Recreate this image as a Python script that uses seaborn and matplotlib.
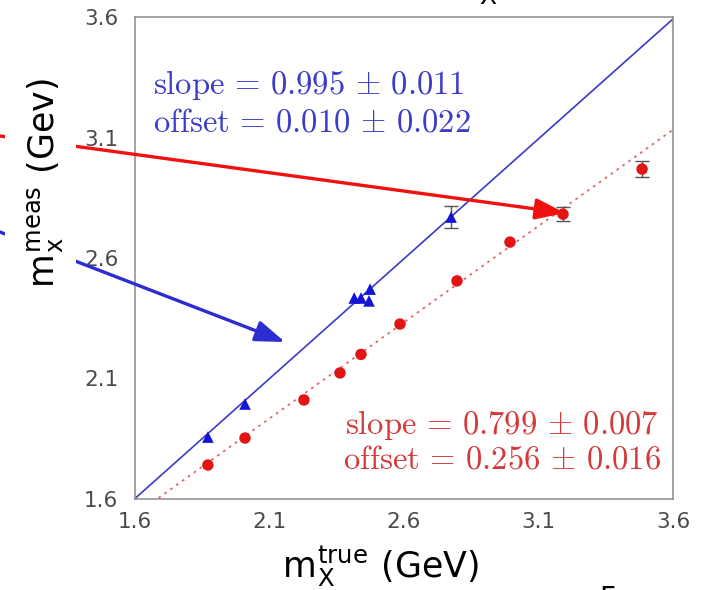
import numpy as np
import pandas as pd
import seaborn as sns
import matplotlib
matplotlib.use("Agg")
import matplotlib.pyplot as plt
from matplotlib.patches import Rectangle
from matplotlib.ticker import FixedLocator, MultipleLocator

# --- measured vs. true mass ---------------------------------------------
# raw measurement (red circles)
x_true_raw = [1.871, 2.009, 2.228, 2.362, 2.440, 2.585, 2.797, 2.994, 3.191, 3.485]
y_meas_raw = [1.741, 1.853, 2.011, 2.123, 2.200, 2.326, 2.505, 2.666, 2.782, 2.969]
yerr_raw = [0, 0, 0, 0, 0, 0, 0, 0, 0.029, 0.033]

# corrected measurement (blue triangles)
x_true_cor = [1.871, 2.009, 2.415, 2.440, 2.474, 2.470, 2.775]
y_meas_cor = [1.857, 1.994, 2.434, 2.434, 2.471, 2.422, 2.770]
yerr_cor = [0, 0, 0, 0, 0, 0, 0.045]

# straight-line fits
slope_cor, slope_cor_err = 0.995, 0.011
offset_cor, offset_cor_err = 0.010, 0.022
slope_raw, slope_raw_err = 0.799, 0.007
offset_raw, offset_raw_err = 0.256, 0.016

tick_values = [1.6, 2.1, 2.6, 3.1, 3.6]
tick_labels = ["1.6", "2.1", "2.6", "3.1", "3.6"]

sns.set_theme(style="white")
plt.rcParams["font.family"] = ["DejaVu Sans"]
plt.rcParams["mathtext.fontset"] = "cm"

W, H = 709, 590
fig = plt.figure(figsize=(W / 100, H / 100), dpi=100)
fig.patch.set_facecolor("white")
ax = fig.add_axes([135 / W, 1 - 499 / H, 538 / W, 482 / H])
ax.set_facecolor("white")

# fit lines
fit_x = np.array([1.6, 3.6])
sns.lineplot(x=fit_x, y=slope_cor * fit_x + offset_cor, ax=ax,
             color="#3a3ac4", lw=1.2, zorder=2)
sns.lineplot(x=fit_x, y=slope_raw * fit_x + offset_raw, ax=ax,
             color="#e06a6a", lw=1.3, linestyle=(0, (1.5, 2.5)), zorder=2)


def draw_errors(xs, ys, errs):
    """Error bars only where an uncertainty is given."""
    sel = [i for i, e in enumerate(errs) if e > 0]
    ax.errorbar([xs[i] for i in sel], [ys[i] for i in sel],
                yerr=[errs[i] for i in sel], fmt="none", ecolor="#555555",
                elinewidth=1.0, capsize=5, capthick=1.0, zorder=3)


draw_errors(x_true_raw, y_meas_raw, yerr_raw)
draw_errors(x_true_cor, y_meas_cor, yerr_cor)

# points
raw_df = pd.DataFrame({"true": x_true_raw, "meas": y_meas_raw})
cor_df = pd.DataFrame({"true": x_true_cor, "meas": y_meas_cor})
sns.scatterplot(data=raw_df, x="true", y="meas", ax=ax, marker="o", s=68,
                color="#e21414", edgecolor="none", zorder=4)
sns.scatterplot(data=cor_df, x="true", y="meas", ax=ax, marker="^", s=70,
                color="#1414d8", edgecolor="none", zorder=4)

ax.set_xlim(1.6, 3.6)
ax.set_ylim(1.6, 3.6)
ax.set_xlabel("")
ax.set_ylabel("")

for axis in (ax.xaxis, ax.yaxis):
    axis.set_major_locator(FixedLocator(tick_values))
    axis.set_minor_locator(MultipleLocator(0.1))
ax.set_xticklabels(tick_labels)
ax.set_yticklabels(tick_labels)
ax.tick_params(which="both", direction="in", top=False, right=False,
               color="#777777", width=1.0, labelsize=15.5, labelcolor="#4a4a4a")
ax.tick_params(which="major", length=7)
ax.tick_params(which="minor", length=4)
ax.tick_params(axis="x", pad=9)
ax.tick_params(axis="y", pad=12)
for sp in ax.spines.values():
    sp.set_color("#8a8a8a")
    sp.set_linewidth(1.1)

# fit results
fit_fmt_slope = r"$\mathrm{slope}\,=\,%.3f\,\pm\,%.3f$"
fit_fmt_offset = r"$\mathrm{offset}\,=\,%.3f\,\pm\,%.3f$"
ax.text(1.667, 3.318, fit_fmt_slope % (slope_cor, slope_cor_err),
        color="#3c3cc8", fontsize=23.5, va="center", ha="left", zorder=5)
ax.text(1.667, 3.166, fit_fmt_offset % (offset_cor, offset_cor_err),
        color="#3c3cc8", fontsize=23.5, va="center", ha="left", zorder=5)
ax.text(2.380, 1.909, fit_fmt_slope % (slope_raw, slope_raw_err),
        color="#d43a3a", fontsize=23.5, va="center", ha="left", zorder=5)
ax.text(2.372, 1.764, fit_fmt_offset % (offset_raw, offset_raw_err),
        color="#d43a3a", fontsize=23.5, va="center", ha="left", zorder=5)

# pointer arrows
ax.annotate("", xy=(565, H - 213), xytext=(0, H - 136),
            xycoords="figure pixels", textcoords="figure pixels",
            arrowprops=dict(arrowstyle="-|>,head_length=0.9,head_width=0.32",
                            mutation_scale=20, color="#f01010", lw=2.4,
                            shrinkA=0, shrinkB=0),
            annotation_clip=False, zorder=20)
ax.annotate("", xy=(285, H - 342), xytext=(0, H - 232),
            xycoords="figure pixels", textcoords="figure pixels",
            arrowprops=dict(arrowstyle="-|>,head_length=0.9,head_width=0.32",
                            mutation_scale=20, color="#2c2cd0", lw=2.4,
                            shrinkA=0, shrinkB=0),
            annotation_clip=False, zorder=20)

# axis titles on a white text box
fig.add_artist(Rectangle((5 / W, 1 - 330 / H), 71 / W, 300 / H,
                         transform=fig.transFigure, facecolor="white",
                         edgecolor="none", zorder=5))
fig.text(46 / W, 1 - 183 / H, r"m$_\mathregular{x}^\mathregular{meas}$ (Gev)",
         rotation=90, ha="center", va="center", fontsize=25, color="black",
         zorder=6)
fig.text(380 / W, 1 - 567 / H, r"m$_\mathregular{X}^\mathregular{true}$ (GeV)",
         ha="center", va="center", fontsize=25, color="black", zorder=6)

# edges of neighbouring slide text
fig.text(488 / W, 1 - 4 / H, "X", ha="center", va="baseline", fontsize=18,
         color="black", zorder=6)
fig.text(607 / W, 5 / H, "F", ha="center", va="top", fontsize=20,
         color="black", zorder=6)

fig.savefig("out.png", dpi=100)
